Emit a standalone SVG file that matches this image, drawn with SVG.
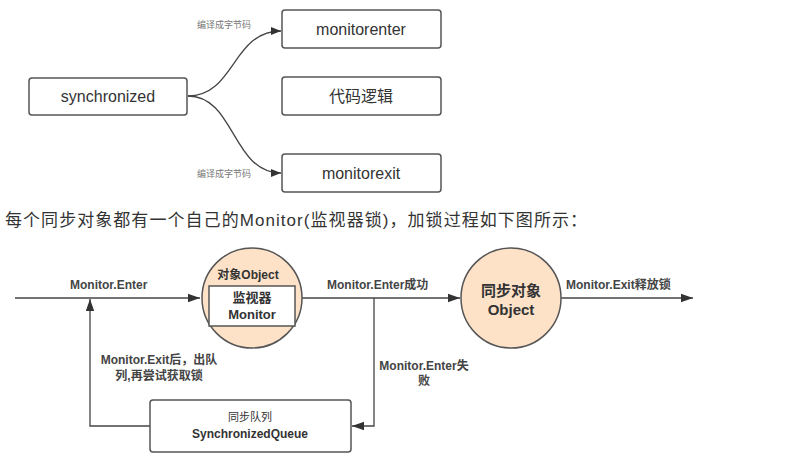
<svg xmlns="http://www.w3.org/2000/svg" width="795" height="469" viewBox="0 0 795 469">
<style>
text{font-family:"Liberation Sans","Noto Sans CJK SC",sans-serif;fill:#333}
.box{fill:#fff;stroke:#555;stroke-width:1.5}
.t16{font-size:16px;text-anchor:middle}
.small{font-size:9px;fill:#777}
.lbl{font-size:12px;font-weight:bold;fill:#444}
.mid{text-anchor:middle}
.ln{fill:none;stroke:#444;stroke-width:1.3}
.circ{fill:#fde2c8;stroke:#555;stroke-width:1.5}
</style>
<defs>
<marker id="ah" viewBox="0 0 10 10" refX="10" refY="5" markerWidth="10" markerHeight="10" markerUnits="userSpaceOnUse" orient="auto">
<path d="M0,1 L10,5 L0,9 z" fill="#333"/>
</marker>
<marker id="ah2" viewBox="0 0 10 10" refX="10" refY="5" markerWidth="12" markerHeight="12" markerUnits="userSpaceOnUse" orient="auto">
<path d="M0,1.5 L10,5 L0,8.5 z" fill="#333"/>
</marker>
</defs>
<rect width="795" height="469" fill="#fff"/>

<g id="connectors">
<path class="ln" d="M188,96 C235,96 232,31 281,31" marker-end="url(#ah)"/>
<path class="ln" d="M188,96 C235,96 232,173 281,173" marker-end="url(#ah)"/>
<path class="ln" d="M15,298 H200" marker-end="url(#ah2)"/>
<path class="ln" d="M302,298 H460" marker-end="url(#ah2)"/>
<path class="ln" d="M561,298 H693" marker-end="url(#ah2)"/>
<path class="ln" d="M374,298 V426 H352" marker-end="url(#ah2)"/>
<path class="ln" d="M150,426 H90 V299" marker-end="url(#ah2)"/>
</g>

<g id="edge-labels">
<text class="small" x="197" y="28">编译成字节码</text>
<text class="small" x="197" y="177">编译成字节码</text>
<text class="lbl" x="70" y="289">Monitor.Enter</text>
<text class="lbl" x="327" y="289">Monitor.Enter成功</text>
<text class="lbl" x="566" y="289">Monitor.Exit释放锁</text>
<text class="lbl mid" x="159" y="364">Monitor.Exit后，出队</text>
<text class="lbl mid" x="159" y="380">列,再尝试获取锁</text>
<text class="lbl mid" x="424" y="370">Monitor.Enter失</text>
<text class="lbl mid" x="424" y="385">败</text>
</g>

<g id="synchronized">
<rect class="box" x="29" y="78" width="158" height="37" rx="3"/>
<text class="t16" x="108" y="102">synchronized</text>
</g>
<g id="monitorenter">
<rect class="box" x="282" y="10" width="159" height="38" rx="3"/>
<text class="t16" x="361" y="35">monitorenter</text>
</g>
<g id="code-logic">
<rect class="box" x="282" y="77" width="159" height="38" rx="3"/>
<text class="t16" x="361" y="102">代码逻辑</text>
</g>
<g id="monitorexit">
<rect class="box" x="282" y="154" width="159" height="38" rx="3"/>
<text class="t16" x="361" y="179">monitorexit</text>
</g>

<g id="heading">
<text x="5" y="226" style="font-size:17px" textLength="582" lengthAdjust="spacing">每个同步对象都有一个自己的Monitor(监视器锁)，加锁过程如下图所示：</text>
</g>

<g id="object-monitor">
<circle class="circ" cx="252" cy="298" r="50"/>
<text class="mid" x="248" y="279" style="font-size:12px;font-weight:bold">对象Object</text>
<rect class="box" x="209" y="286" width="86" height="40"/>
<text class="mid" x="252" y="302" style="font-size:13px;font-weight:bold">监视器</text>
<text class="mid" x="252" y="319" style="font-size:13px;font-weight:bold">Monitor</text>
</g>

<g id="sync-object">
<circle class="circ" cx="511" cy="298" r="50"/>
<text class="mid" x="511" y="296" style="font-size:15px;font-weight:bold">同步对象</text>
<text class="mid" x="511" y="315" style="font-size:15px;font-weight:bold">Object</text>
</g>

<g id="sync-queue">
<rect class="box" x="150" y="400" width="201" height="52" rx="3"/>
<text class="mid" x="250" y="421" style="font-size:11px">同步队列</text>
<text class="mid" x="250" y="438" style="font-size:12px;font-weight:bold">SynchronizedQueue</text>
</g>
</svg>
